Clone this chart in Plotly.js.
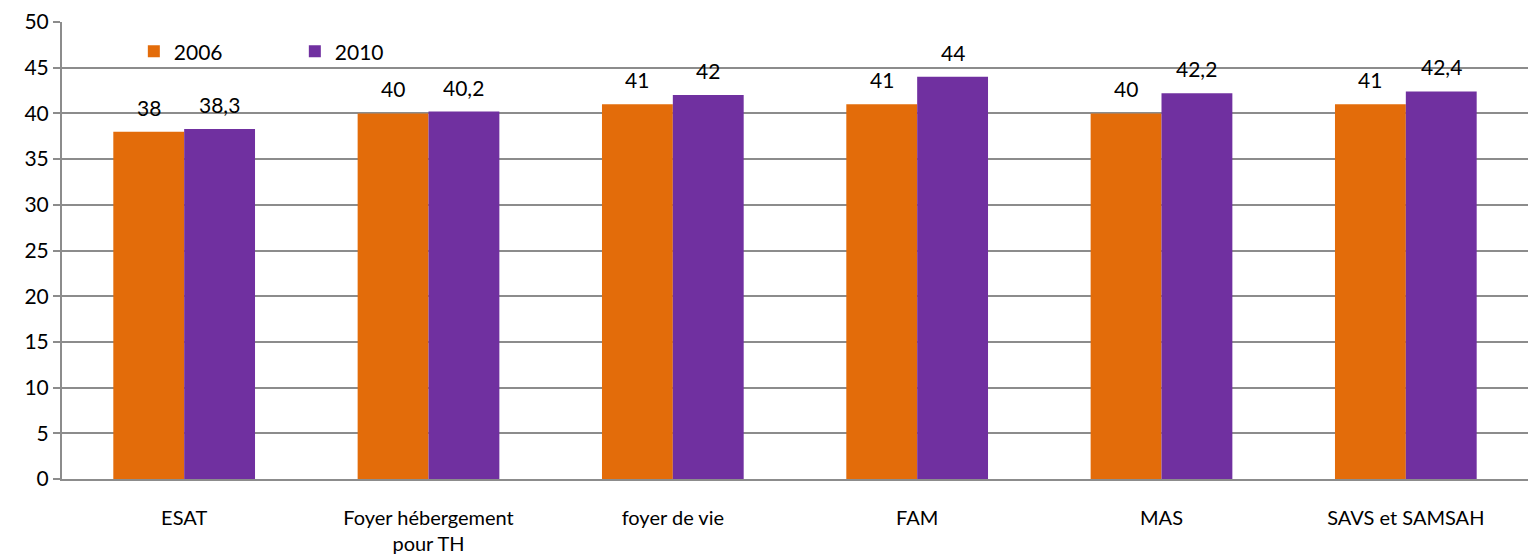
<!DOCTYPE html>
<html>
<head>
<meta charset="utf-8">
<script src="https://cdn.plot.ly/plotly-3.0.1.min.js"></script>
<style>
  html, body { margin: 0; padding: 0; background: #fff; }
  #chart { width: 1528px; height: 556px; }
</style>
</head>
<body>
<div id="chart"></div>
<script>
// Établissements et services
const categories = ["ESAT", "Foyer hébergement<br>pour TH", "foyer de vie", "FAM", "MAS", "SAVS et SAMSAH"];
const values2006 = [38, 40, 41, 41, 40, 41];
const values2010 = [38.3, 40.2, 42, 44, 42.2, 42.4];
const labels2006 = ["38", "40", "41", "41", "40", "41"];
const labels2010 = ["38,3", "40,2", "42", "44", "42,2", "42,4"];
const yTicks = [0, 5, 10, 15, 20, 25, 30, 35, 40, 45, 50];

const fontFamily = "Lato, 'Open Sans', sans-serif";
const margin = { l: 62, r: 0, t: 22, b: 77 };
const width = 1528, height = 556;
const bargap = 0.42;

const traces = [
  {
    type: "bar", name: "2006", x: categories, y: values2006,
    marker: { color: "#E36C0A" }, hoverinfo: "none"
  },
  {
    type: "bar", name: "2010", x: categories, y: values2010,
    marker: { color: "#7030A0" }, hoverinfo: "none"
  }
];

// value labels sit a little above each bar of the group
const slot = (width - margin.l - margin.r) / categories.length;
const barW = slot * (1 - bargap) / 2;
function valueLabels(values, labels, side) {
  return values.map((v, i) => ({
    x: categories[i], y: v, text: labels[i],
    xref: "x", yref: "y", showarrow: false,
    xanchor: "center", yanchor: "bottom",
    xshift: side * barW / 2, yshift: 10,
    font: { family: fontFamily, size: 21, color: "#000" }
  }));
}

const layout = {
  width: width, height: height, margin: margin,
  paper_bgcolor: "#fff", plot_bgcolor: "#fff",
  barmode: "group", bargap: bargap, bargroupgap: 0,
  font: { family: fontFamily, size: 20, color: "#000" },
  showlegend: true,
  legend: {
    orientation: "h", x: 0.049, y: 0.935, xanchor: "left", yanchor: "middle",
    bgcolor: "rgba(0,0,0,0)", font: { family: fontFamily, size: 21, color: "#000" },
    itemwidth: 30, traceorder: "normal", entrywidth: 116
  },
  annotations: valueLabels(values2006, labels2006, -1).concat(valueLabels(values2010, labels2010, 1)),
  xaxis: {
    type: "category", showgrid: false, zeroline: false,
    showline: true, linecolor: "#8c8c8c", linewidth: 2,
    ticks: "", ticklabelstandoff: 20,
    tickfont: { family: fontFamily, size: 20, color: "#000" },
    fixedrange: true
  },
  yaxis: {
    range: [0, 50], tickvals: yTicks, ticktext: yTicks.map(String),
    showgrid: true, gridcolor: "#8c8c8c", gridwidth: 2,
    zeroline: false, showline: true, linecolor: "#8c8c8c", linewidth: 2,
    ticks: "outside", ticklen: 7, tickcolor: "#8c8c8c", tickwidth: 2,
    tickfont: { family: fontFamily, size: 21, color: "#000" },
    fixedrange: true
  }
};

Plotly.newPlot("chart", traces, layout, { staticPlot: true, displayModeBar: false });
</script>
</body>
</html>
